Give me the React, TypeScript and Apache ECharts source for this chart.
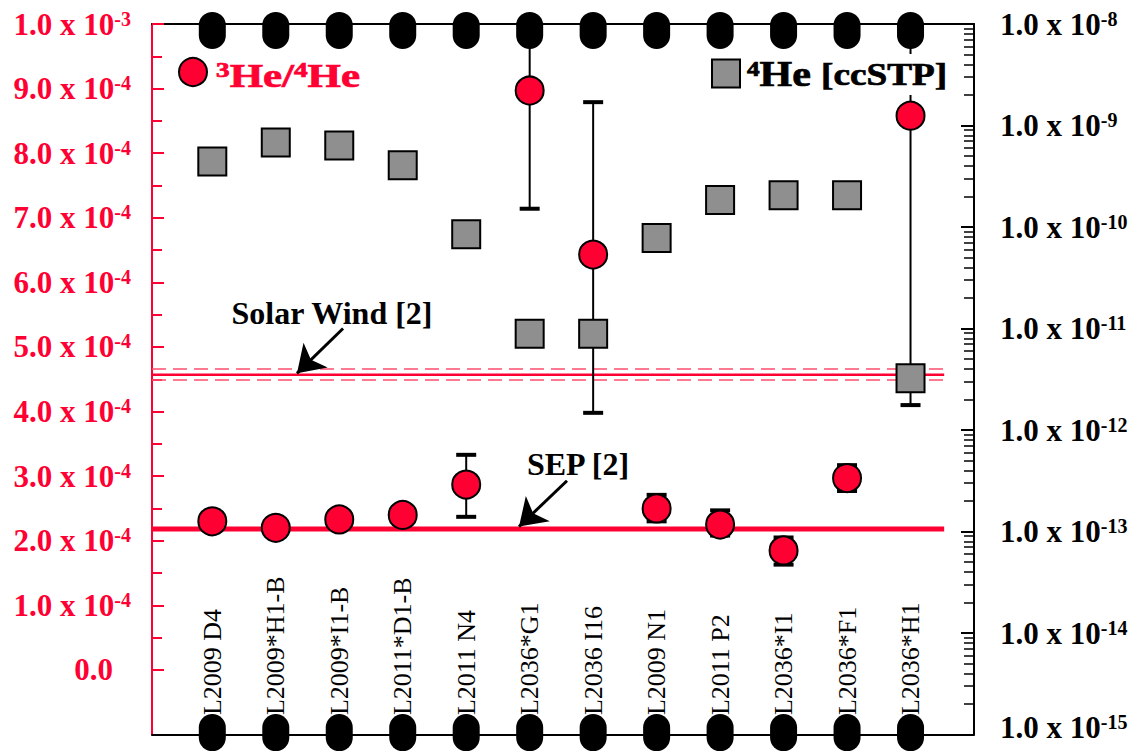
import React, { useEffect, useRef } from 'react';
import * as echarts from 'echarts';

// ---------- data ----------
const CATEGORIES = [
  'L2009 D4', 'L2009*H1-B', 'L2009*I1-B', 'L2011*D1-B', 'L2011 N4', 'L2036*G1',
  'L2036 I16', 'L2009 N1', 'L2011 P2', 'L2036*I1', 'L2036*F1', 'L2036*H1',
];
// 3He/4He ratio (left axis)
const HE3_HE4 = [2.30e-4, 2.20e-4, 2.33e-4, 2.40e-4, 2.87e-4, 8.97e-4, 6.43e-4, 2.50e-4, 2.25e-4, 1.85e-4, 2.97e-4, 8.58e-4];
const HE3_HE4_LOW: (number | null)[] = [null, null, null, null, 2.37e-4, 7.14e-4, 3.98e-4, 2.30e-4, 2.08e-4, 1.63e-4, 2.77e-4, 4.10e-4];
const HE3_HE4_HIGH: (number | null)[] = [null, null, null, null, 3.33e-4, 1.0e-3, 8.79e-4, 2.71e-4, 2.47e-4, 2.05e-4, 3.17e-4, 1.0e-3];
// 4He amount [ccSTP] (right axis, log)
const HE4_CCSTP = [4.43e-10, 6.8e-10, 6.37e-10, 4.06e-10, 8.5e-11, 8.87e-12, 8.87e-12, 7.8e-11, 1.84e-10, 2.06e-10, 2.06e-10, 3.23e-12];

// reference levels
const SOLAR_WIND = 4.57e-4;
const SOLAR_WIND_UPPER = 4.66e-4;
const SOLAR_WIND_LOWER = 4.49e-4;
const SEP = 2.18e-4;
const REF_LINE_X = [-0.95, 11.53];

// annotation arrows [tail, tip] in data coords (left axis)
const SW_ARROW = [[2.06, 5.285e-4], [1.334, 4.592e-4]];
const SEP_ARROW = [[5.588, 2.928e-4], [4.832, 2.219e-4]];

// axes
const X_MIN = -0.95;
const X_MAX = 12.0;
const LEFT_MIN = -1e-4;
const LEFT_MAX = 1e-3;
const LEFT_LABEL_VALUES = [0, 1e-4, 2e-4, 3e-4, 4e-4, 5e-4, 6e-4, 7e-4, 8e-4, 9e-4, 1e-3];
const LEFT_MINOR_VALUES = [0.5e-4, 1.5e-4, 2.5e-4, 3.5e-4, 4.5e-4, 5.5e-4, 6.5e-4, 7.5e-4, 8.5e-4, 9.5e-4];
const RIGHT_MAJOR_VALUES = [1e-15, 1e-14, 1e-13, 1e-12, 1e-11, 1e-10, 1e-9, 1e-8];
const RIGHT_DECADES = [-15, -14, -13, -12, -11, -10, -9];
const RIGHT_MINOR_MULTIPLIERS = [2, 3, 4, 5, 6, 7, 8, 9];
const TICK_MARK_TOP = 9.9e-4;
const TICK_MARK_BOTTOM = -0.97e-4;
const CATEGORY_LABEL_Y = -0.70e-4;

const RED = '#ff0033';
const GREY = '#8f8f8f';
const FONT = '"Liberation Serif", "Times New Roman", serif';

const RIGHT_MINOR_VALUES = RIGHT_DECADES.flatMap((e) =>
  RIGHT_MINOR_MULTIPLIERS.map((k) => Number((k * Math.pow(10, e)).toPrecision(3)))
);

const CAPSULE = 'path://M0,13A13,13,0,0,1,26,13L26,23A13,13,0,0,1,0,23Z';

function leftFormatter(v: number) {
  if (Math.abs(v) < 1e-12) return '{zero|0.0}';
  if (v < 0) return '';
  const [m, e] = v.toExponential(1).split('e');
  return `${m} x 10{sup|${parseInt(e, 10)}}`;
}
function rightFormatter(v: number) {
  const e = Math.round(Math.log10(v));
  const txt = `1.0 x 10{sup|${e}}`;
  // lift the bottom-most label a little so it stays inside the page
  return e === -15 ? `${txt}\n{tiny| }` : txt;
}

function buildOption(): any {
  const errData = HE3_HE4_LOW.map((lo, i) => (lo == null ? null : [i, lo, HE3_HE4_HIGH[i]])).filter(Boolean);
  const axisLabelBase = { fontFamily: FONT, fontSize: 31, fontWeight: 'bold' };
  const refLine = (v: number) => REF_LINE_X.map((x) => [x, v]);
  const legendTok = (fill: string, size: number, extra: any = {}) => ({
    fill, stroke: fill, lineWidth: 0.7, fontFamily: FONT, fontSize: size, fontWeight: 'bold', ...extra,
  });

  return {
    animation: false,
    backgroundColor: '#fff',
    grid: { left: 152, right: 166, top: 24, bottom: 15, containLabel: false },
    xAxis: [
      {
        type: 'value', min: X_MIN, max: X_MAX, position: 'bottom',
        axisLine: { show: true, onZero: false, lineStyle: { color: '#000', width: 2 } },
        axisTick: { show: false }, axisLabel: { show: false }, splitLine: { show: false },
      },
      {
        type: 'value', min: X_MIN, max: X_MAX, position: 'top',
        axisLine: { show: true, onZero: false, lineStyle: { color: '#000', width: 2 } },
        axisTick: { show: false }, axisLabel: { show: false }, splitLine: { show: false },
      },
    ],
    yAxis: [
      {
        type: 'value', min: LEFT_MIN, max: LEFT_MAX, position: 'left',
        axisLine: { show: true, onZero: false, lineStyle: { color: RED, width: 2 } },
        axisTick: { show: true, inside: true, length: 12, customValues: LEFT_LABEL_VALUES, lineStyle: { color: RED, width: 2 } },
        axisLabel: {
          show: true, customValues: LEFT_LABEL_VALUES, formatter: leftFormatter, margin: 21,
          color: RED, ...axisLabelBase,
          rich: {
            sup: { color: RED, fontFamily: FONT, fontSize: 20, fontWeight: 'bold', verticalAlign: 'top', lineHeight: 20 },
            zero: { color: RED, fontFamily: FONT, fontSize: 31, fontWeight: 'bold', padding: [0, 18, 0, 0] },
          },
        },
        splitLine: { show: false },
      },
      {
        type: 'log', logBase: 10, min: 1e-15, max: 1e-8, position: 'right',
        axisLine: { show: true, onZero: false, lineStyle: { color: '#000', width: 2 } },
        axisTick: { show: true, inside: true, length: 13, customValues: RIGHT_MAJOR_VALUES, lineStyle: { color: '#000', width: 2 } },
        axisLabel: {
          show: true, customValues: RIGHT_MAJOR_VALUES, formatter: rightFormatter, margin: 26,
          color: '#000', ...axisLabelBase,
          rich: {
            sup: { color: '#000', fontFamily: FONT, fontSize: 20, fontWeight: 'bold', verticalAlign: 'top', lineHeight: 20 },
            tiny: { fontSize: 6, lineHeight: 14 },
          },
        },
        splitLine: { show: false }, minorTick: { show: false },
      },
      {
        type: 'value', min: LEFT_MIN, max: LEFT_MAX, position: 'left', offset: 0,
        axisLine: { show: false, onZero: false },
        axisTick: { show: true, inside: true, length: 10, customValues: LEFT_MINOR_VALUES, lineStyle: { color: RED, width: 2 } },
        axisLabel: { show: false }, splitLine: { show: false },
      },
      {
        type: 'log', logBase: 10, min: 1e-15, max: 1e-8, position: 'right', offset: 0,
        axisLine: { show: false, onZero: false },
        axisTick: { show: true, inside: true, length: 10, customValues: RIGHT_MINOR_VALUES, lineStyle: { color: '#000', width: 1.5 } },
        axisLabel: { show: false }, splitLine: { show: false },
      },
    ],
    series: [
      {
        name: 'Solar Wind upper', type: 'line', yAxisIndex: 0, data: refLine(SOLAR_WIND_UPPER),
        symbol: 'none', lineStyle: { color: '#ff4d6d', width: 1.5, type: [14, 7] }, z: 1, silent: true,
      },
      {
        name: 'Solar Wind lower', type: 'line', yAxisIndex: 0, data: refLine(SOLAR_WIND_LOWER),
        symbol: 'none', lineStyle: { color: '#ff4d6d', width: 1.5, type: [14, 7] }, z: 1, silent: true,
      },
      {
        name: 'Solar Wind', type: 'line', yAxisIndex: 0, data: refLine(SOLAR_WIND),
        symbol: 'none', lineStyle: { color: RED, width: 2.5 }, z: 1, silent: true,
      },
      {
        name: 'SEP', type: 'line', yAxisIndex: 0, data: refLine(SEP),
        symbol: 'none', lineStyle: { color: RED, width: 5 }, z: 1, silent: true,
        markLine: {
          silent: true, symbol: ['none', 'arrow'], symbolSize: 26, animation: false,
          lineStyle: { color: '#000', width: 3, type: 'solid' },
          itemStyle: { color: '#000' },
          label: { show: false },
          data: [
            [{ coord: SW_ARROW[0] }, { coord: SW_ARROW[1] }],
            [{ coord: SEP_ARROW[0] }, { coord: SEP_ARROW[1] }],
          ],
        },
      },
      {
        name: 'error', type: 'custom', yAxisIndex: 0, data: errData, z: 2, silent: true,
        renderItem: (params: any, api: any) => {
          const x = api.value(0);
          const p1 = api.coord([x, api.value(1)]);
          const p2 = api.coord([x, api.value(2)]);
          const w = 10;
          return {
            type: 'group',
            children: [
              { type: 'line', shape: { x1: p1[0], y1: p1[1], x2: p2[0], y2: p2[1] }, style: { stroke: '#000', lineWidth: 2 } },
              { type: 'line', shape: { x1: p1[0] - w, y1: p1[1], x2: p1[0] + w, y2: p1[1] }, style: { stroke: '#000', lineWidth: 4 } },
              { type: 'line', shape: { x1: p2[0] - w, y1: p2[1], x2: p2[0] + w, y2: p2[1] }, style: { stroke: '#000', lineWidth: 4 } },
            ],
          };
        },
      },
      {
        name: '4He [ccSTP]', type: 'scatter', yAxisIndex: 1, symbol: 'rect', symbolSize: 28,
        data: HE4_CCSTP.map((v, i) => [i, v]),
        itemStyle: { color: GREY, borderColor: '#000', borderWidth: 2, opacity: 1 }, z: 4,
      },
      {
        name: '3He/4He', type: 'scatter', yAxisIndex: 0, symbol: 'circle', symbolSize: 28,
        data: HE3_HE4.map((v, i) => [i, v]),
        itemStyle: { color: RED, borderColor: '#000', borderWidth: 2, opacity: 1 }, z: 5,
      },
      {
        name: 'tick marks', type: 'scatter', yAxisIndex: 0, symbol: CAPSULE, symbolSize: [27, 37], clip: false,
        data: CATEGORIES.flatMap((_, i) => [[i, TICK_MARK_TOP], [i, TICK_MARK_BOTTOM]]),
        itemStyle: { color: '#000', opacity: 1 }, z: 8, silent: true,
      },
      {
        name: 'category labels', type: 'custom', yAxisIndex: 0, z: 6, silent: true,
        data: CATEGORIES.map((_, i) => [i, CATEGORY_LABEL_Y]),
        renderItem: (params: any, api: any) => {
          const p = api.coord([api.value(0), api.value(1)]);
          return {
            type: 'text', x: p[0], y: p[1], rotation: Math.PI / 2,
            style: {
              text: CATEGORIES[params.dataIndex], fill: '#000',
              font: `26px ${FONT}`, align: 'left', verticalAlign: 'middle',
            },
          };
        },
      },
    ],
    graphic: [
      { type: 'circle', z: 20, shape: { cx: 193, cy: 72, r: 14 }, style: { fill: RED, stroke: '#000', lineWidth: 2 } },
      {
        type: 'text', z: 20, x: 216, y: 76, scaleX: 1.3,
        style: {
          text: '{sup|3}{big|He/}{sup|4}{big|He}', fill: RED, font: `bold 33px ${FONT}`,
          align: 'left', verticalAlign: 'middle',
          rich: {
            sup: legendTok(RED, 21, { verticalAlign: 'top', lineHeight: 21 }),
            big: legendTok(RED, 33),
          },
        },
      },
      { type: 'rect', z: 20, shape: { x: 712, y: 59.5, width: 28, height: 28 }, style: { fill: GREY, stroke: '#000', lineWidth: 2 } },
      {
        type: 'text', z: 20, x: 747, y: 74.5, scaleX: 1.2,
        style: {
          text: '{sup|4}{big|He} {med|[ccSTP]}', fill: '#000', font: `bold 34px ${FONT}`,
          align: 'left', verticalAlign: 'middle', backgroundColor: '#fff', lineHeight: 41,
          rich: {
            sup: legendTok('#000', 21, { verticalAlign: 'top', lineHeight: 41, padding: [4, 0, 0, 0] }),
            big: legendTok('#000', 35, { lineHeight: 41 }),
            med: legendTok('#000', 31, { lineHeight: 41 }),
          },
        },
      },
      {
        type: 'text', z: 20, x: 332, y: 313,
        style: { text: 'Solar Wind [2]', fill: '#000', font: `bold 32px ${FONT}`, align: 'center', verticalAlign: 'middle' },
      },
      {
        type: 'text', z: 20, x: 578, y: 464,
        style: { text: 'SEP [2]', fill: '#000', font: `bold 32px ${FONT}`, align: 'center', verticalAlign: 'middle' },
      },
    ],
  };
}

export default function App() {
  const ref = useRef<HTMLDivElement>(null);
  useEffect(() => {
    if (!ref.current) return;
    const chart = echarts.init(ref.current, null, { renderer: 'svg' });
    chart.setOption(buildOption());
    return () => chart.dispose();
  }, []);
  return (
    <div
      ref={ref}
      style={{ position: 'fixed', left: 0, top: 0, width: 1140, height: 753, background: '#fff' }}
    />
  );
}
